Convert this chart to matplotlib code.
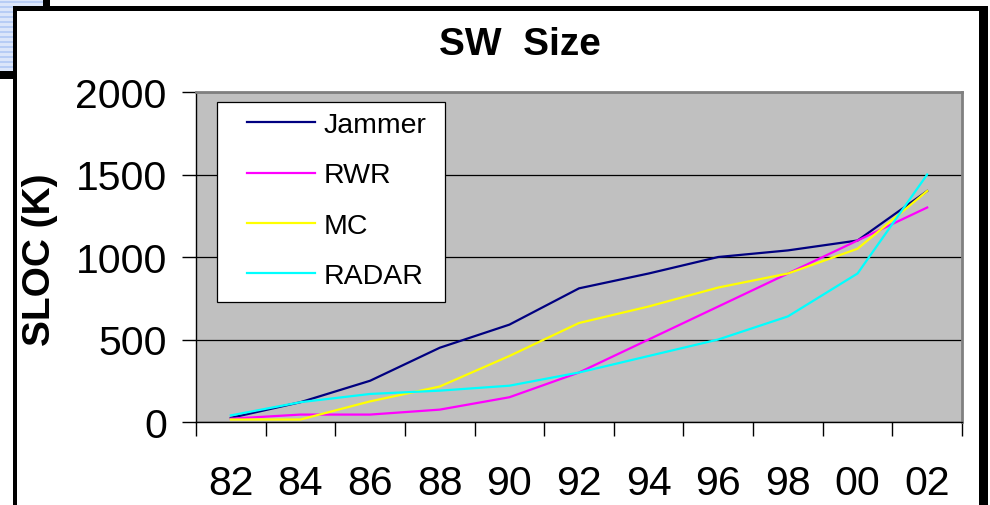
import numpy as np
import matplotlib.pyplot as plt
from matplotlib.patches import Rectangle

years = ['82', '84', '86', '88', '90', '92', '94', '96', '98', '00', '02']
jammer = [25, 120, 250, 450, 590, 810, 900, 1000, 1040, 1100, 1400]
rwr = [20, 45, 45, 75, 150, 300, 500, 700, 900, 1100, 1300]
mc = [15, 15, 125, 215, 400, 600, 700, 815, 900, 1050, 1400]
radar = [40, 120, 170, 190, 220, 300, 400, 500, 640, 900, 1500]

series = [("Jammer", jammer, "#000080"),
          ("RWR", rwr, "#FF00FF"),
          ("MC", mc, "#FFFF00"),
          ("RADAR", radar, "#00FFFF")]

plt.rcParams['font.family'] = ['Liberation Sans', 'DejaVu Sans']

W, H = 990, 506
fig = plt.figure(figsize=(W / 100, H / 100), dpi=100)


def box(x0, y0, x1, y1):
    # pixel box (top-left origin) -> figure fraction rect
    return [x0 / W, 1 - y1 / H, (x1 - x0) / W, (y1 - y0) / H]


def rect(x0, y0, x1, y1, z=-5, **kw):
    l, b, w, h = box(x0, y0, x1, y1)
    r = Rectangle((l, b), w, h, transform=fig.transFigure, zorder=z, **kw)
    fig.patches.append(r)
    return r


# slide decoration in the top-left corner
rect(0, 0, 44, 76, facecolor="#DCE6FA", edgecolor="none")
for yy in range(2, 74, 5):
    rect(0, yy, 44, yy + 2, facecolor="#B8CDF5", edgecolor="none")
rect(0, 72, 15, 80, facecolor="black", edgecolor="none")
rect(43, 0, 50, 8, facecolor="black", edgecolor="none")
# outer black frame
rect(13, 7, 988, 12, facecolor="black", edgecolor="none")
rect(13, 7, 17, 506, facecolor="black", edgecolor="none")
rect(979, 7, 988, 506, facecolor="black", edgecolor="none")
rect(17, 12, 979, 506, facecolor="white", edgecolor="none")

ax = fig.add_axes(box(196, 93, 962, 423))
ax.set_facecolor("#C0C0C0")

x = np.arange(len(years))
for name, vals, col in series:
    ax.plot(x, vals, color=col, lw=1.6, label=name, solid_joinstyle="miter")

ax.set_xlim(-0.5, len(years) - 0.5)
ax.set_ylim(0, 2000)
ax.set_yticks([0, 500, 1000, 1500, 2000])
ax.yaxis.grid(True, color="black", lw=0.9)
ax.set_axisbelow(True)

ax.set_xticks(x)
ax.set_xticklabels(years)
ax.set_xticks(np.arange(-0.5, len(years), 1), minor=True)
ax.tick_params(axis="x", which="major", length=0, pad=30, labelsize=29.5)
ax.tick_params(axis="x", which="minor", length=10, width=1, direction="out")
ax.tick_params(axis="y", length=10, width=1, direction="out", pad=11, labelsize=29.5)

for s in ["left", "bottom"]:
    ax.spines[s].set_color("black")
    ax.spines[s].set_linewidth(1)
for s in ["top", "right"]:
    ax.spines[s].set_color("#808080")
    ax.spines[s].set_linewidth(2)

fig.text(520 / W, 1 - 45 / H, "SW  Size", fontsize=28, fontweight="bold",
         ha="center", va="center")
fig.text(40 / W, 1 - 260 / H, "SLOC (K)", fontsize=28, fontweight="bold",
         rotation=90, ha="center", va="center")

# legend box
lb = box(217, 103, 445, 303)
ax.add_patch(Rectangle((lb[0], lb[1]), lb[2], lb[3], transform=fig.transFigure,
                       facecolor="white", edgecolor="black", lw=0.9, zorder=4))
leg = fig.legend(*ax.get_legend_handles_labels(), loc="upper left",
                 bbox_to_anchor=(247 / W, 1 - 113 / H), fontsize=20.5,
                 frameon=False, handlelength=2.4, handletextpad=0.28,
                 labelspacing=0.86, borderpad=0, borderaxespad=0)
leg.set_zorder(5)

fig.savefig("out.png", dpi=100)
